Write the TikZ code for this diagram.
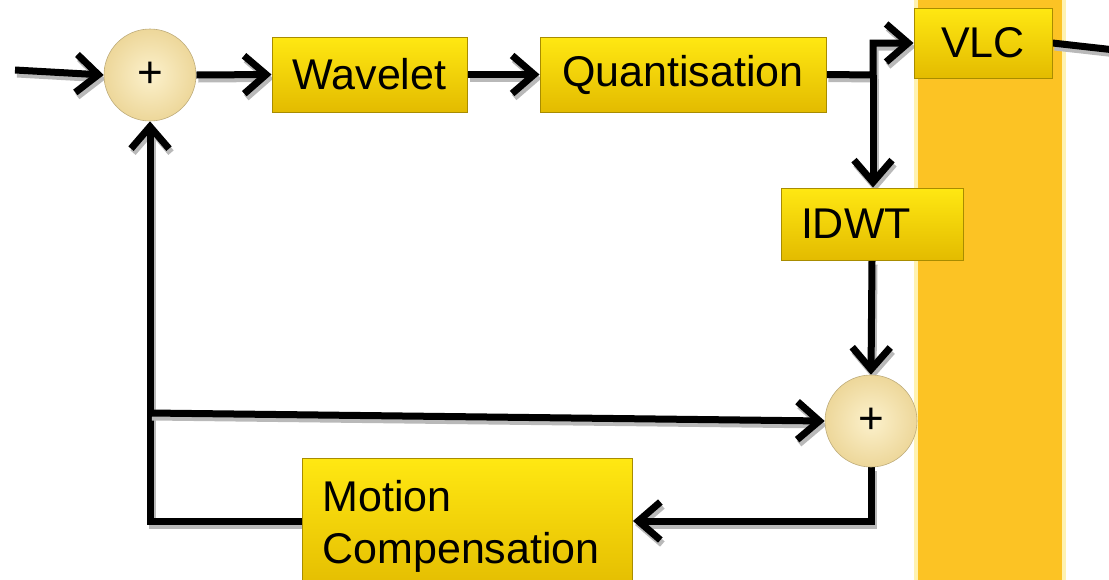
\documentclass[tikz,border=0pt]{standalone}
\usepackage{fontspec}
\setmainfont{Liberation Sans}
\usetikzlibrary{arrows.meta}
\pgfdeclarelayer{bandlayer}
\pgfdeclarelayer{wires}
\pgfsetlayers{bandlayer,wires,main}
\definecolor{band}{HTML}{FCC324}
\definecolor{bandedge}{HTML}{FFF2B0}
\definecolor{boxtop}{HTML}{FFE812}
\definecolor{boxbot}{HTML}{E3BB00}
\definecolor{boxline}{HTML}{A88C00}
\definecolor{sumin}{HTML}{FCF1CC}
\definecolor{sumout}{HTML}{EDD79A}
\begin{document}
\begin{tikzpicture}[x=1pt,y=-1pt,
  blk/.style={draw=boxline, line width=1pt, top color=boxtop, bottom color=boxbot,
    font=\fontsize{43}{52}\selectfont, inner sep=0pt},
  sum/.style={circle, minimum size=92pt, inner sep=0pt, draw=sumout!80!black,
    line width=0.6pt, inner color=sumin, outer color=sumout,
    font=\fontsize{44}{46}\selectfont},
  wire/.style={line width=7pt,
    preaction={draw=gray!55, line width=7pt, transform canvas={shift={(2pt,-4pt)}}}},
  flow/.style={wire, -{Straight Barb[length=22pt,width=38pt]}}
]
\useasboundingbox (0,0) rectangle (1109,579);
\clip (0,0) rectangle (1109,579);

% output channel band
\begin{pgfonlayer}{bandlayer}
  \fill[bandedge] (914,-5) rectangle (1066,590);
  \fill[band] (918,-5) rectangle (1062,590);
\end{pgfonlayer}

% blocks
\node[sum] (s1) at (150,75) {+};
\node[blk, minimum width=195pt, minimum height=75pt] (wav) at (369.5,74.5) {Wavelet};
\node[blk, minimum width=286pt, minimum height=75pt] (qua) at (683,74.5) {Quantisation};
\node[blk, minimum width=138pt, minimum height=70pt] (vlc) at (983,43) {VLC};
\node[blk, minimum width=182pt, minimum height=72pt, text width=142pt, align=left] (idwt) at (872,224) {IDWT};
\node[sum] (s2) at (871,421) {+};
\node[blk, anchor=north west, minimum width=330pt, minimum height=135pt,
  text width=290pt, align=left] (mc) at (302,458) {Motion\\Compensation};

% junctions and free ends
\coordinate (in) at (15,70);
\coordinate (j) at (873,75);
\coordinate (out) at (1115,50);
\coordinate (fb) at (150,413);

% connectors
\begin{pgfonlayer}{wires}
  \draw[flow] (in) -- (s1.west);
  \draw[flow] (s1.east) -- (wav.west);
  \draw[flow] (wav.east) -- (qua.west);
  \draw[flow] (qua.east) -- (j) |- (vlc.west);
  \draw[flow] (j) -- (j |- idwt.north);
  \draw[wire] (vlc.east) -- (out);
  \draw[flow] (idwt.south) -- (s2.north);
  \draw[flow] (s2.south) |- ([yshift=5pt]mc.east);
  \draw[flow] ([yshift=5pt]mc.west) -| (s1.south);
  \draw[flow] (fb) -- (s2.west);
\end{pgfonlayer}
\end{tikzpicture}
\end{document}
